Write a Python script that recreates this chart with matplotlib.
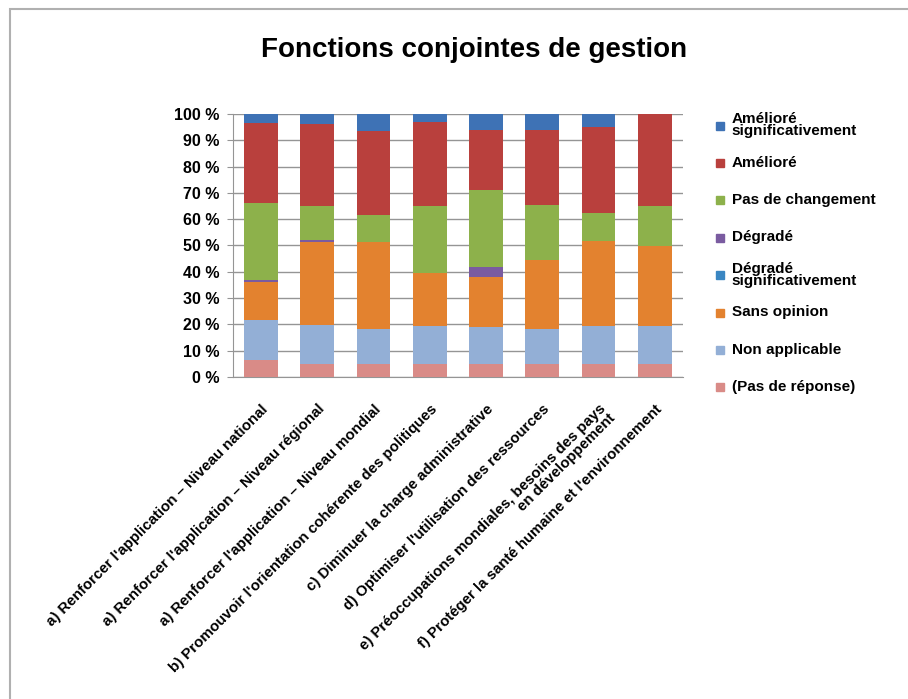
import numpy as np
import matplotlib.pyplot as plt
from matplotlib.patches import Rectangle

plt.rcParams['font.family'] = ['Liberation Sans', 'DejaVu Sans']

categories = [
    "a) Renforcer l'application \u2013 Niveau national",
    "a) Renforcer l'application \u2013 Niveau régional",
    "a) Renforcer l'application \u2013 Niveau mondial",
    "b) Promouvoir l'orientation cohérente des politiques",
    "c) Diminuer la charge administrative",
    "d) Optimiser l'utilisation des ressources",
    "e) Préoccupations mondiales, besoins des pays\nen développement",
    "f) Protéger la santé humaine et l'environnement",
]

# series from bottom to top of the stack (percent)
pas_de_reponse = [6.3, 5.0, 4.8, 4.8, 4.8, 4.8, 4.8, 4.8]
non_applicable = [15.3, 14.8, 13.6, 14.5, 14.2, 13.3, 14.5, 14.5]
sans_opinion = [14.6, 31.6, 33.0, 20.3, 19.0, 26.5, 32.3, 30.4]
degrade_sig = [0, 0, 0, 0, 0, 0, 0, 0]
degrade = [0.8, 0.8, 0, 0, 3.8, 0, 0, 0]
pas_de_changement = [29.2, 12.8, 10.0, 25.5, 29.4, 20.9, 10.7, 15.2]
ameliore = [30.5, 31.2, 32.3, 32.0, 22.7, 28.4, 32.9, 35.1]
ameliore_sig = [3.3, 3.8, 6.3, 2.9, 6.1, 6.1, 4.8, 0]

series = [pas_de_reponse, non_applicable, sans_opinion, degrade_sig,
          degrade, pas_de_changement, ameliore, ameliore_sig]
labels = ['(Pas de réponse)', 'Non applicable', 'Sans opinion',
          'Dégradé\nsignificativement', 'Dégradé', 'Pas de changement',
          'Amélioré', 'Amélioré\nsignificativement']
colors = ['#D98B87', '#93AFD6', '#E3822F', '#3A86C2', '#7A5BA0',
          '#8DB14B', '#B9403D', '#3E72B5']

fig = plt.figure(figsize=(9.08, 6.99), dpi=100)
ax = fig.add_axes([0.2566, 0.4607, 0.4956, 0.3763])

x = np.arange(len(categories))
bottom = np.zeros(len(categories))
for vals, c in zip(series, colors):
    ax.bar(x, vals, 0.6, bottom=bottom, color=c, zorder=3)
    bottom += np.array(vals)

ax.set_xlim(-0.5, len(categories) - 0.5)
ax.set_ylim(0, 100)
ax.set_yticks(range(0, 101, 10))
ax.set_yticklabels([f'{v} %' for v in range(0, 101, 10)],
                   fontsize=11.5, fontweight='bold')
ax.yaxis.grid(True, color='#959595', linewidth=1, zorder=0)
ax.set_axisbelow(True)
for s in ['top', 'right']:
    ax.spines[s].set_visible(False)
for s in ['left', 'bottom']:
    ax.spines[s].set_color('#959595')
ax.tick_params(axis='y', length=4, color='#959595', pad=6)
ax.tick_params(axis='x', length=0, pad=18)
ax.set_xticks(x)
ax.set_xticklabels(categories, rotation=45, ha='right',
                   rotation_mode='anchor', fontsize=10.8, fontweight='bold',
                   multialignment='right', linespacing=0.9)

fig.text(0.522, 0.928, 'Fonctions conjointes de gestion', ha='center',
         va='center', fontsize=20, fontweight='bold')

# legend, top entry first
for i, (lab, c) in enumerate(zip(labels[::-1], colors[::-1])):
    ytop = 0.821 - i * 0.0535
    fig.patches.append(Rectangle((0.788, ytop - 0.0065), 0.009, 0.0115,
                                 color=c, transform=fig.transFigure))
    fig.text(0.806, ytop, lab, ha='left', va='center', fontsize=11,
             fontweight='bold', linespacing=0.85)

# outer frame (only top and left edges fall inside the picture)
fig.patches.append(Rectangle((0.011, -0.05), 1.2, 1.037,
                             fill=False, edgecolor='#b0b0b0', linewidth=1.5,
                             transform=fig.transFigure))

fig.savefig('out.png', dpi=100)
